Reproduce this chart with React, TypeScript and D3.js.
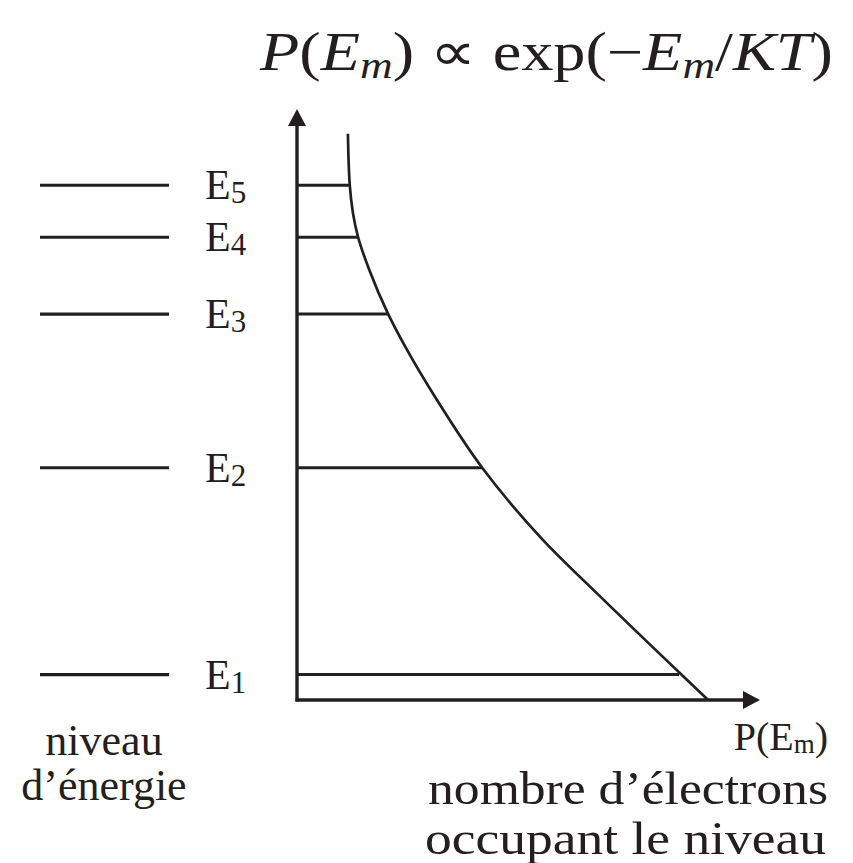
import React from "react";
import * as d3 from "d3";

// ---- data ----
const levelNames = ["1", "2", "3", "4", "5"];
const levelEnergy = [4.3, 39.3, 65.3, 78.3, 87.1];
const levelPopulation = [82.5, 40.0, 19.7, 13.2, 11.4];

const curveEnergy = [0, 4.4, 16.9, 27.1, 39.3, 50.8, 59.2, 65.3, 72.8, 78.3, 87.1, 95.8];
const curvePopulation = [88.8, 82.9, 66.3, 53.1, 40.0, 30.2, 23.8, 19.7, 15.6, 13.2, 11.4, 11.0];

const INK = "#231f20";
const SERIF = "'Liberation Serif', 'Times New Roman', serif";

export default function App() {
  const W = 853, H = 863;
  const x = d3.scaleLinear().domain([0, 100]).range([297, 760]);
  const y = d3.scaleLinear().domain([0, 100]).range([700, 109]);

  const pts: [number, number][] = curveEnergy.map((e, i) => [curvePopulation[i], e]);
  const line = d3
    .line<[number, number]>()
    .x((d) => x(d[0]))
    .y((d) => y(d[1]))
    .curve(d3.curveMonotoneY);

  const x0 = x(0), y0 = y(0), xTip = x(100), yTip = y(100);
  const upArrow = `M${x0},${yTip} L${x0 - 9},${yTip + 17} L${x0 + 9},${yTip + 17} Z`;
  const rightArrow = `M${xTip},${y0} L${xTip - 17},${y0 - 9} L${xTip - 17},${y0 + 9} Z`;

  return (
    <svg
      width={W}
      height={H}
      viewBox={`0 0 ${W} ${H}`}
      style={{ position: "absolute", left: 0, top: 0, background: "#fff" }}
    >
      <rect x={0} y={0} width={W} height={H} fill="#fff" />
      {/* title formula */}
      <text
        x={260}
        y={70}
        fontSize={54}
        fontFamily={SERIF}
        fill={INK}
        textLength={573}
        lengthAdjust="spacingAndGlyphs"
      >
        <tspan fontStyle="italic">P</tspan>
        <tspan>(</tspan>
        <tspan fontStyle="italic">E</tspan>
        <tspan fontStyle="italic" fontSize={38} dy={8}>m</tspan>
        <tspan dy={-8}>{") \u221D exp(\u2212"}</tspan>
        <tspan fontStyle="italic">E</tspan>
        <tspan fontStyle="italic" fontSize={38} dy={8}>m</tspan>
        <tspan dy={-8}>/</tspan>
        <tspan fontStyle="italic">KT</tspan>
        <tspan>)</tspan>
      </text>

      {/* left energy level bars and labels */}
      {levelEnergy.map((e, i) => (
        <g key={"lvl" + i}>
          <line x1={40} x2={169} y1={y(e)} y2={y(e)} stroke={INK} strokeWidth={3.2} />
          <text x={205} y={y(e) + 14} fontSize={42} fontFamily={SERIF} fill={INK}>
            E
            <tspan fontSize={31} dy={4}>{levelNames[i]}</tspan>
          </text>
          <line
            x1={x0}
            x2={x(levelPopulation[i])}
            y1={y(e)}
            y2={y(e)}
            stroke={INK}
            strokeWidth={3}
          />
        </g>
      ))}

      {/* curve */}
      <path d={line(pts) || ""} fill="none" stroke={INK} strokeWidth={2.7} />

      {/* axes */}
      <line x1={x0} x2={x0} y1={y0 + 1.5} y2={yTip + 14} stroke={INK} strokeWidth={3.4} />
      <line x1={x0 - 1.5} x2={xTip - 14} y1={y0} y2={y0} stroke={INK} strokeWidth={3.4} />
      <path d={upArrow} fill={INK} />
      <path d={rightArrow} fill={INK} />

      {/* bottom labels */}
      <text x={104} y={755} textAnchor="middle" fontSize={44} fontFamily={SERIF} fill={INK}>
        niveau
      </text>
      <text x={104} y={800} textAnchor="middle" fontSize={44} fontFamily={SERIF} fill={INK}>
        d’énergie
      </text>
      <text x={828} y={750} textAnchor="end" fontSize={40} fontFamily={SERIF} fill={INK}>
        P(E<tspan fontSize={27} dy={3}>m</tspan>
        <tspan dy={-3}>)</tspan>
      </text>
      <text
        x={428}
        y={804}
        fontSize={46}
        fontFamily={SERIF}
        fill={INK}
        textLength={400}
        lengthAdjust="spacingAndGlyphs"
      >
        nombre d’électrons
      </text>
      <text
        x={425}
        y={854}
        fontSize={46}
        fontFamily={SERIF}
        fill={INK}
        textLength={401}
        lengthAdjust="spacingAndGlyphs"
      >
        occupant le niveau
      </text>
    </svg>
  );
}
